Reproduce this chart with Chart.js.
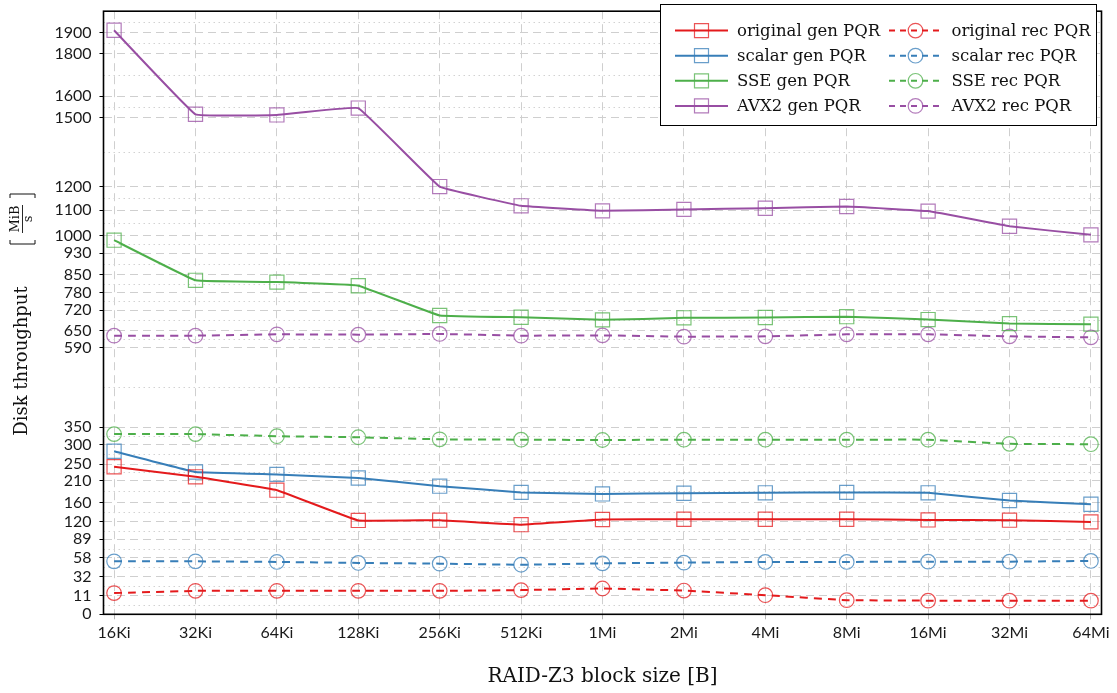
<!DOCTYPE html>
<html>
<head>
<meta charset="utf-8">
<script src="https://cdn.jsdelivr.net/npm/chart.js@4.4.1/dist/chart.umd.min.js"></script>
<style>
  html, body { margin: 0; padding: 0; background: #fff; }
</style>
</head>
<body>
<canvas id="chart" width="1117" height="693"></canvas>
<script>
// block sizes on the x axis
const blockSizes = ['16Ki', '32Ki', '64Ki', '128Ki', '256Ki', '512Ki', '1Mi', '2Mi', '4Mi', '8Mi', '16Mi', '32Mi', '64Mi'];

// generation throughput (MiB/s)
const originalGen = [244, 219, 188, 123, 123.5, 115, 125, 125.5, 125.5, 125.5, 124, 123.5, 120];
const scalarGen = [283, 231, 225, 216, 197, 183, 179.5, 181, 182, 183, 182, 164.5, 156.5];
const sseGen = [981, 828, 821, 807, 702, 696, 687, 694, 695, 698, 688, 674, 672];
const avx2Gen = [1913, 1516, 1513, 1545, 1199, 1118, 1097, 1103, 1108, 1115, 1096, 1036, 1002];

// reconstruction throughput (MiB/s)
const originalRec = [13.7, 16.2, 16.2, 16.2, 16.2, 17, 18.8, 16.5, 11.4, 8.3, 8, 8, 8];
const scalarRec = [53.2, 53.2, 52.4, 51, 50, 48.5, 50.4, 51.4, 52.4, 52.4, 52.8, 52.8, 53.8];
const sseRec = [330, 330, 324, 321, 315, 314, 313, 314, 314, 314, 314, 302, 301];
const avx2Rec = [632, 632, 636.7, 635.6, 638, 632, 633, 628.5, 629.5, 636.7, 636.7, 629.5, 626];

// y tick labels
const yTicks = [0, 11, 32, 58, 89, 120, 160, 210, 250, 300, 350, 590, 650, 720, 780, 850, 930, 1000, 1100, 1200, 1500, 1600, 1800, 1900];

// axis geometry of the warped y axis: where each tick sits, measured from the bottom (axis height 604.3)
const AXIS_H = 604.3;
const yTickPos = [0, 18.8, 37.8, 56.5, 75.3, 92.6, 112, 134.1, 150.3, 170.1, 187.5, 267.3, 284.3, 304.6, 322.3, 340.3, 361.8, 379.7, 405, 428.8, 497.6, 519, 562, 582.5];
const Y_MAX = 2006;
const knotV = yTicks.concat([Y_MAX]);
const knotP = yTickPos.concat([AXIS_H]);

function warp(v) {
    let i = 0;
    while (i < knotV.length - 2 && v > knotV[i + 1]) i++;
    const t = (v - knotV[i]) / (knotV[i + 1] - knotV[i]);
    return (knotP[i] + t * (knotP[i + 1] - knotP[i])) / AXIS_H;
}

function unwarp(d) {
    const p = d * AXIS_H;
    let i = 0;
    while (i < knotP.length - 2 && p > knotP[i + 1]) i++;
    const t = (p - knotP[i]) / (knotP[i + 1] - knotP[i]);
    return knotV[i] + t * (knotV[i + 1] - knotV[i]);
}

// linear scale with a piecewise warp between the labelled ticks
class WarpScale extends Chart.LinearScale {
    static id = 'warp';
    static defaults = {};
    determineDataLimits() {
        this.min = 0;
        this.max = Y_MAX;
    }
    buildTicks() {
        return yTicks.map(v => ({ value: v }));
    }
    getPixelForValue(value) {
        if (value === null || value === undefined) return NaN;
        return this.getPixelForDecimal(warp(value));
    }
    getValueForPixel(pixel) {
        return unwarp(this.getDecimalForPixel(pixel));
    }
}
Chart.register(WarpScale);

const RED = '#e41a1c', BLUE = '#377eb8', GREEN = '#4daf4a', PURPLE = '#984ea3';

function fade(hex, a) {
    const n = parseInt(hex.slice(1), 16);
    return `rgba(${(n >> 16) & 255}, ${(n >> 8) & 255}, ${n & 255}, ${a})`;
}

const series = [
    { label: 'original gen PQR', values: originalGen, color: RED, rec: false },
    { label: 'scalar gen PQR', values: scalarGen, color: BLUE, rec: false },
    { label: 'SSE gen PQR', values: sseGen, color: GREEN, rec: false },
    { label: 'AVX2 gen PQR', values: avx2Gen, color: PURPLE, rec: false },
    { label: 'original rec PQR', values: originalRec, color: RED, rec: true },
    { label: 'scalar rec PQR', values: scalarRec, color: BLUE, rec: true },
    { label: 'SSE rec PQR', values: sseRec, color: GREEN, rec: true },
    { label: 'AVX2 rec PQR', values: avx2Rec, color: PURPLE, rec: true }
];

const datasets = series.map(s => ({
    label: s.label,
    data: s.values.map((v, i) => ({ x: i, y: v })),
    borderColor: s.color,
    borderWidth: 2,
    borderDash: s.rec ? [8, 6] : [],
    tension: 0.06,
    fill: false,
    clip: false,
    pointStyle: s.rec ? 'circle' : 'rect',
    pointRadius: s.rec ? 7.3 : 10,
    pointHoverRadius: s.rec ? 7.3 : 10,
    pointBorderWidth: 1.2,
    pointBorderColor: fade(s.color, 0.75),
    pointBackgroundColor: 'rgba(0,0,0,0)'
}));

// minor dotted grid lines halfway between the labelled ticks, and the frame
const minorGrid = {
    id: 'minorGrid',
    beforeDatasetsDraw(chart) {
        const { ctx, chartArea: a, scales: { y } } = chart;
        ctx.save();
        ctx.strokeStyle = '#d2d2d2';
        ctx.lineWidth = 1;
        ctx.setLineDash([1.5, 3.5]);
        for (let i = 0; i < knotP.length - 1; i++) {
            const py = Math.round(y.getPixelForDecimal((knotP[i] + knotP[i + 1]) / 2 / AXIS_H)) + 0.5;
            ctx.beginPath();
            ctx.moveTo(a.left, py);
            ctx.lineTo(a.right, py);
            ctx.stroke();
        }
        ctx.restore();
    },
    afterDatasetsDraw(chart) {
        const { ctx, chartArea: a } = chart;
        ctx.save();
        ctx.strokeStyle = '#000';
        ctx.lineWidth = 1.6;
        ctx.strokeRect(a.left, a.top, a.right - a.left, a.bottom - a.top);
        ctx.restore();
    }
};

// axis titles
const axisTitles = {
    id: 'axisTitles',
    afterDraw(chart) {
        const { ctx, chartArea: a } = chart;
        ctx.save();
        ctx.fillStyle = '#111';
        ctx.font = '20px "DejaVu Serif"';
        ctx.textAlign = 'center';
        ctx.textBaseline = 'alphabetic';
        ctx.fillText('RAID-Z3 block size [B]', (a.left + a.right) / 2, 682);

        // y title, rotated
        ctx.translate(22, 361);
        ctx.rotate(-Math.PI / 2);
        ctx.font = '18px "DejaVu Serif"';
        ctx.fillText('Disk throughput', 0, 5);
        ctx.restore();

        ctx.save();
        ctx.translate(22, 219);
        ctx.rotate(-Math.PI / 2);
        ctx.fillStyle = '#111';
        ctx.strokeStyle = '#111';
        ctx.textAlign = 'center';
        ctx.font = '13px "DejaVu Serif"';
        ctx.fillText('MiB', 0, -3);
        ctx.fillText('s', 0, 10);
        ctx.lineWidth = 0.9;
        ctx.beginPath();
        ctx.moveTo(-14, 0.5); ctx.lineTo(14, 0.5);
        ctx.stroke();
        ctx.lineWidth = 1;
        ctx.beginPath();
        ctx.moveTo(-21, -12); ctx.lineTo(-25, -12); ctx.lineTo(-25, 13); ctx.lineTo(-21, 13);
        ctx.moveTo(21, -12); ctx.lineTo(25, -12); ctx.lineTo(25, 13); ctx.lineTo(21, 13);
        ctx.stroke();
        ctx.restore();
    }
};

// two-column legend box
const boxLegend = {
    id: 'boxLegend',
    afterDraw(chart) {
        const { ctx } = chart;
        ctx.save();
        ctx.fillStyle = '#fff';
        ctx.fillRect(660.5, 4.5, 436, 121);
        ctx.strokeStyle = '#000';
        ctx.lineWidth = 1;
        ctx.strokeRect(660.5, 4.5, 436, 121);

        chart.data.datasets.forEach((ds, i) => {
            const col = i < 4 ? 0 : 1;
            const row = i % 4;
            const cy = 30.6 + row * 25.1;
            const x0 = col === 0 ? 675 : 889;
            const x1 = x0 + 53;
            const cx = (x0 + x1) / 2;
            ctx.strokeStyle = ds.borderColor;
            ctx.lineWidth = 2;
            ctx.setLineDash(ds.borderDash.length ? [6, 5] : []);
            ctx.beginPath();
            ctx.moveTo(x0, cy);
            ctx.lineTo(x1, cy);
            ctx.stroke();
            ctx.setLineDash([]);
            ctx.strokeStyle = ds.pointBorderColor;
            ctx.lineWidth = ds.pointBorderWidth;
            ctx.beginPath();
            if (ds.pointStyle === 'rect') {
                ctx.rect(cx - 7, cy - 7, 14, 14);
            } else {
                ctx.arc(cx, cy, 7.3, 0, Math.PI * 2);
            }
            ctx.stroke();

            ctx.fillStyle = '#111';
            ctx.font = '16.5px "DejaVu Serif"';
            ctx.textAlign = 'left';
            ctx.textBaseline = 'middle';
            ctx.fillText(ds.label, col === 0 ? 737 : 951.5, cy + 1);
        });
        ctx.restore();
    }
};

function noPad(scale) {
    scale.paddingTop = 0;
    scale.paddingBottom = 0;
    scale.paddingLeft = 0;
    scale.paddingRight = 0;
}

new Chart(document.getElementById('chart'), {
    type: 'line',
    data: { datasets },
    options: {
        responsive: false,
        animation: false,
        events: [],
        layout: { padding: { left: 0, right: 15.5, top: 10, bottom: 0 } },
        plugins: {
            legend: { display: false },
            tooltip: { enabled: false }
        },
        scales: {
            x: {
                type: 'linear',
                min: -0.13,
                max: 12.13,
                afterBuildTicks: (scale) => {
                    scale.ticks = blockSizes.map((_, i) => ({ value: i }));
                },
                afterFit: (scale) => { scale.height = 693 - 614.3; noPad(scale); },
                ticks: {
                    autoSkip: false,
                    maxRotation: 0,
                    padding: 4,
                    color: '#1a1a1a',
                    font: { family: 'Lato', size: 16 },
                    callback: (v) => blockSizes[v]
                },
                grid: {
                    color: '#cfcfcf',
                    lineWidth: 1,
                    tickColor: '#b5b5b5',
                    tickLength: 5,
                    tickBorderDash: []
                },
                border: { display: false, dash: [8, 5] }
            },
            y: {
                type: 'warp',
                afterFit: (scale) => { scale.width = 103.5; noPad(scale); },
                ticks: {
                    autoSkip: false,
                    padding: 8,
                    color: '#1a1a1a',
                    font: { family: 'Lato', size: 16 },
                    callback: (v) => String(v)
                },
                grid: {
                    color: '#cfcfcf',
                    lineWidth: 1,
                    tickColor: '#000',
                    tickLength: 4,
                    tickBorderDash: []
                },
                border: { display: false, dash: [8, 5] }
            }
        }
    },
    plugins: [minorGrid, axisTitles, boxLegend]
});
</script>
</body>
</html>
